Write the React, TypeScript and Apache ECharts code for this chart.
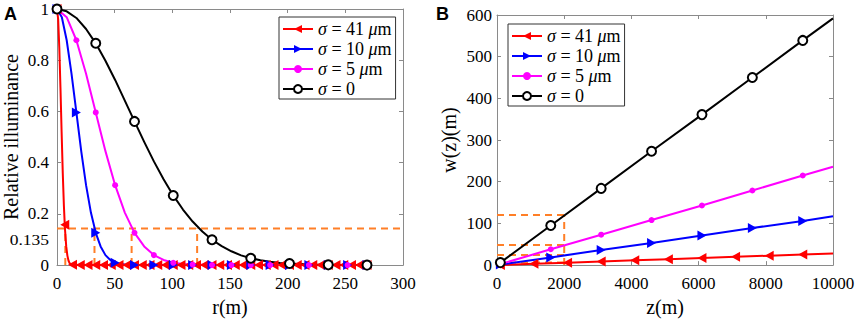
import React, { useEffect, useRef } from 'react';
import * as echarts from 'echarts';

// ---------- legend ----------
const seriesKeys = ['s41', 's10', 's5', 's0'];
const legendLabels: Record<string, string> = {
  s41: '{i|σ} = 41 {i|μ}m',
  s10: '{i|σ} = 10 {i|μ}m',
  s5: '{i|σ} = 5 {i|μ}m',
  s0: '{i|σ} = 0',
};

// ---------- Panel A: relative illuminance vs r ----------
const rRed = [0, 1, 2, 3, 4, 5, 6, 6.72, 7, 8, 9, 10, 11, 12, 13.44,
  20.16, 26.88, 33.6, 40.32, 47.04, 53.76, 60.48, 67.2, 73.92, 80.64, 87.36, 94.08, 100.8,
  107.52, 114.24, 120.96, 127.68, 134.4, 141.12, 147.84, 154.56, 161.28, 168, 174.72, 181.44,
  188.16, 194.88, 201.6, 208.32, 215.04, 221.76, 228.48, 235.2, 241.92, 248.64, 255.36, 262.08, 268.8];
const yRed = [1, 0.96, 0.849, 0.693, 0.52, 0.36, 0.23, 0.158, 0.135, 0.073, 0.037, 0.017, 0.007, 0.003, 0.001,
  0, 0, 0, 0, 0, 0, 0, 0, 0, 0, 0, 0, 0,
  0, 0, 0, 0, 0, 0, 0, 0, 0, 0, 0, 0,
  0, 0, 0, 0, 0, 0, 0, 0, 0, 0, 0, 0, 0];

const rBlue = [0, 4.2, 8.4, 12.6, 16.8, 21, 25.2, 29.4, 33.6, 37.8, 42, 46.2, 50.4, 54.6, 58.8, 63, 67.2,
  75.6, 84, 92.4, 100.8, 109.2, 117.6, 126, 134.4, 142.8, 151.2, 159.6, 168, 176.4, 184.8, 193.2,
  201.6, 210, 218.4, 226.8, 235.2, 243.6, 252, 260.4, 268.8];
const yBlue = [1, 0.968, 0.878, 0.747, 0.596, 0.445, 0.312, 0.205, 0.126, 0.073, 0.039, 0.02, 0.009, 0.004, 0.002, 0.001, 0,
  0, 0, 0, 0, 0, 0, 0, 0, 0, 0, 0, 0, 0, 0, 0,
  0, 0, 0, 0, 0, 0, 0, 0, 0];

const rGrid = [0, 8.4, 16.8, 25.2, 33.6, 42, 50.4, 58.8, 67.2, 75.6, 84, 92.4, 100.8, 109.2, 117.6, 126,
  134.4, 142.8, 151.2, 159.6, 168, 176.4, 184.8, 193.2, 201.6, 210, 218.4, 226.8, 235.2, 243.6, 252, 260.4, 268.8];
const yMagenta = [1, 0.968, 0.878, 0.747, 0.596, 0.445, 0.312, 0.205, 0.126, 0.073, 0.039, 0.02, 0.009, 0.004, 0.002, 0.001,
  0, 0, 0, 0, 0, 0, 0, 0, 0, 0, 0, 0, 0, 0, 0, 0, 0];
const yBlack = [1, 0.991, 0.965, 0.922, 0.866, 0.798, 0.723, 0.642, 0.561, 0.481, 0.405, 0.335, 0.272, 0.217, 0.17, 0.131,
  0.099, 0.074, 0.054, 0.038, 0.027, 0.019, 0.013, 0.008, 0.006, 0.004, 0.002, 0.001, 0.001, 0, 0, 0, 0];

const markerStepA: Record<string, number> = { s41: 6.72, s10: 16.8, s5: 16.8, s0: 33.6 };

const dashLevelA = 0.143;
const dashRadiiA = [7.2, 32.5, 64.7, 121.5];
const extraLabelA = '0.135';

// ---------- Panel B: w(z) vs z ----------
const zMain = [100, 1600, 3100, 4600, 6100, 7600, 9100, 10000];
const wBlack = [6, 95, 184, 273, 361, 450, 539, 592];
const wMagenta = [2.4, 38, 73, 108, 143, 179, 215, 236];
const wBlue = [1.2, 18.5, 36, 53, 71, 89, 106, 117];
const zRed = [100, 1100, 2100, 3100, 4100, 5100, 6100, 7100, 8100, 9100, 10000];
const wRed = [0.3, 3.1, 5.9, 8.7, 11.5, 14.3, 17.1, 19.9, 22.7, 25.5, 28];

const dashZB = 2000;
const dashWidthsB = [120, 48, 24, 6];

// ---------- styling ----------
const F = 'Liberation Serif';
const AXIS_GRAY = '#8a8a8a';
const ORANGE = '#ff7f27';

const styles: Record<string, { color: string; symbol: string; size: any; border: number }> = {
  s41: { color: '#ff0000', symbol: 'path://M0,5L10,0L10,10Z', size: [9, 10], border: 0 },
  s10: { color: '#0000ff', symbol: 'path://M10,5L0,0L0,10Z', size: [9, 10], border: 0 },
  s5: { color: '#ff00ff', symbol: 'circle', size: 6, border: 0 },
  s0: { color: '#000000', symbol: 'emptyCircle', size: 8, border: 2 },
};

function lineSeries(key: string, xs: number[], ys: number[], isMark: (x: number, i: number) => boolean,
  xi: number, yi: number, over: any = {}) {
  const st = { ...styles[key], ...over };
  return {
    type: 'line',
    name: key,
    xAxisIndex: xi,
    yAxisIndex: yi,
    data: xs.map((x, i) => (isMark(x, i) ? { value: [x, ys[i]] } : { value: [x, ys[i]], symbol: 'none' })),
    symbol: st.symbol,
    symbolSize: st.size,
    symbolKeepAspect: true,
    showSymbol: true,
    smooth: false,
    lineStyle: { color: st.color, width: 2, join: 'round' },
    itemStyle: { color: st.color, borderColor: st.color, borderWidth: st.border },
    silent: true,
    emphasis: { disabled: true },
    z: 3,
  };
}

function dashSeries(pts: number[][], xi: number, yi: number) {
  return {
    type: 'line',
    name: 'dash',
    xAxisIndex: xi,
    yAxisIndex: yi,
    data: pts,
    symbol: 'none',
    lineStyle: { color: ORANGE, width: 2, type: [7, 5] },
    silent: true,
    emphasis: { disabled: true },
    z: 2,
  };
}

const onStep = (step: number) => (x: number) => {
  const k = x / step;
  return Math.abs(k - Math.round(k)) < 1e-6;
};

function axisBase(gridIndex: number, position: string, min: number, max: number, interval: number, labels: boolean, labelMargin: number) {
  return {
    type: 'value',
    gridIndex,
    position,
    min,
    max,
    interval,
    axisLine: { show: true, onZero: false, lineStyle: { color: AXIS_GRAY, width: 1 } },
    axisTick: { show: true, inside: true, length: 4, lineStyle: { color: AXIS_GRAY } },
    splitLine: { show: false },
    axisLabel: {
      show: labels,
      color: '#000',
      fontFamily: F,
      fontSize: 17,
      margin: labelMargin,
      formatter: (v: number) => String(Number(v.toFixed(3))),
    },
  };
}

const nameStyle = { fontFamily: F, fontSize: 20, color: '#000' };

export default function App() {
  const ref = useRef<HTMLDivElement>(null);
  useEffect(() => {
    document.body.style.margin = '0';
    const chart = echarts.init(ref.current!, undefined, { renderer: 'svg' });

    const series: any[] = [];
    // Panel A dashed guides
    series.push(dashSeries([[0, dashLevelA], [300, dashLevelA]], 0, 0));
    dashRadiiA.forEach((r) => series.push(dashSeries([[r, 0], [r, dashLevelA]], 0, 0)));
    // Panel A curves
    series.push(lineSeries('s41', rRed, yRed, onStep(markerStepA.s41), 0, 0));
    series.push(lineSeries('s10', rBlue, yBlue, onStep(markerStepA.s10), 0, 0));
    series.push(lineSeries('s5', rGrid, yMagenta, onStep(markerStepA.s5), 0, 0));
    series.push(lineSeries('s0', rGrid, yBlack, onStep(markerStepA.s0), 0, 0, { size: 9, border: 2.6 }));
    // Panel B dashed guides
    series.push(dashSeries([[dashZB, 0], [dashZB, Math.max(...dashWidthsB)]], 2, 2));
    dashWidthsB.forEach((w) => series.push(dashSeries([[0, w], [dashZB, w]], 2, 2)));
    // Panel B lines
    const notLastMain = (_x: number, i: number) => i < zMain.length - 1;
    const notLastRed = (_x: number, i: number) => i < zRed.length - 1;
    series.push(lineSeries('s41', zRed, wRed, notLastRed, 2, 2));
    series.push(lineSeries('s10', zMain, wBlue, notLastMain, 2, 2));
    series.push(lineSeries('s5', zMain, wMagenta, notLastMain, 2, 2));
    series.push(lineSeries('s0', zMain, wBlack, notLastMain, 2, 2, { size: 9 }));

    const legendBase = {
      data: seriesKeys,
      orient: 'vertical',
      padding: [3, 4, 1, 3],
      itemGap: 2,
      itemWidth: 30,
      itemHeight: 10,
      backgroundColor: '#fff',
      borderColor: '#333',
      borderWidth: 1,
      borderRadius: 0,
      selectedMode: false,
      formatter: (n: string) => legendLabels[n],
      textStyle: {
        fontFamily: F,
        fontSize: 18,
        color: '#000',
        lineHeight: 18,
        rich: { i: { fontFamily: F, fontSize: 18, fontStyle: 'italic', color: '#000' } },
      },
    };

    chart.setOption({
      animation: false,
      backgroundColor: '#fff',
      grid: [
        { left: 55, right: 455, top: 9, bottom: 55 },
        { left: 497, right: 25, top: 15, bottom: 55 },
      ],
      xAxis: [
        { ...axisBase(0, 'bottom', 0, 300, 50, true, 10), name: 'r(m)', nameLocation: 'middle', nameGap: 31, nameTextStyle: nameStyle },
        axisBase(0, 'top', 0, 300, 50, false, 8),
        { ...axisBase(1, 'bottom', 0, 10000, 2000, true, 10), name: 'z(m)', nameLocation: 'middle', nameGap: 31, nameTextStyle: nameStyle },
        axisBase(1, 'top', 0, 10000, 2000, false, 8),
      ],
      yAxis: [
        { ...axisBase(0, 'left', 0, 1, 0.2, true, 8), name: 'Relative illuminance', nameLocation: 'middle', nameGap: 36, nameTextStyle: { ...nameStyle, fontSize: 20 } },
        axisBase(0, 'right', 0, 1, 0.2, false, 8),
        { ...axisBase(1, 'left', 0, 600, 100, true, 5), name: 'w(z)(m)', nameLocation: 'middle', nameGap: 38, nameTextStyle: { ...nameStyle, fontSize: 20 } },
        axisBase(1, 'right', 0, 600, 100, false, 8),
      ],
      legend: [
        { ...legendBase, left: 279, top: 17 },
        { ...legendBase, left: 508, top: 24 },
      ],
      graphic: [
        { type: 'text', x: 4, y: 5, style: { text: 'A', font: 'bold 18px Liberation Sans', fill: '#000' } },
        { type: 'text', x: 436, y: 5, style: { text: 'B', font: 'bold 18px Liberation Sans', fill: '#000' } },
        {
          type: 'text', x: 49, y: 240, scaleX: 1.25,
          style: { text: extraLabelA, font: `14px ${F}`, fill: '#000', align: 'right', verticalAlign: 'middle' },
        },
      ],
      series,
    });
    return () => chart.dispose();
  }, []);
  return <div ref={ref} style={{ position: 'fixed', left: 0, top: 0, width: 858, height: 322 }} />;
}
